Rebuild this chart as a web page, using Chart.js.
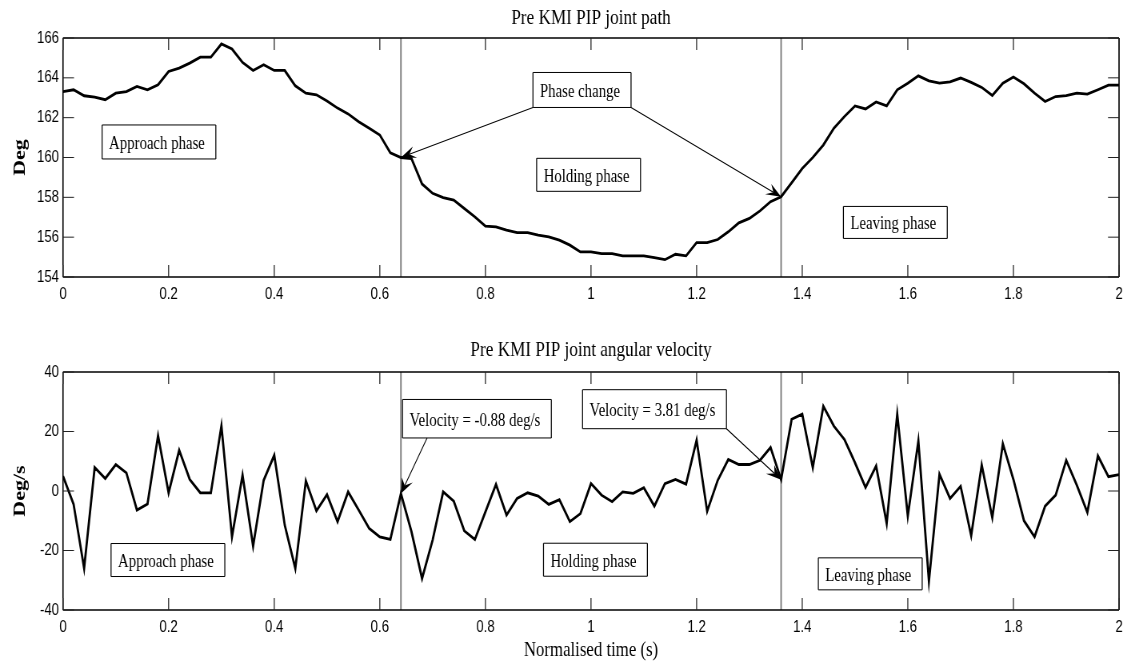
<!DOCTYPE html>
<html>
<head>
<meta charset="utf-8">
<title>Pre KMI PIP joint</title>
<script src="https://cdn.jsdelivr.net/npm/chart.js@4.4.1/dist/chart.umd.min.js"></script>
<style>
  html, body { margin: 0; padding: 0; background: #fff; }
  #wrap { position: relative; width: 1139px; height: 664px; overflow: hidden; }
  #wrap canvas { position: absolute; left: 0; }
</style>
</head>
<body>
<div id="wrap">
  <!-- canvases are drawn wider than shown and squeezed back, which gives the narrow MATLAB-export lettering -->
  <canvas id="pathChart" width="1424" height="310" style="top:0;width:1139px;height:310px"></canvas>
  <canvas id="velChart" width="1424" height="354" style="top:310px;width:1139px;height:354px"></canvas>
</div>
<script>
// normalised time (s)
var time = [
  0.00, 0.02, 0.04, 0.06, 0.08, 0.10, 0.12, 0.14, 0.16, 0.18,
  0.20, 0.22, 0.24, 0.26, 0.28, 0.30, 0.32, 0.34, 0.36, 0.38,
  0.40, 0.42, 0.44, 0.46, 0.48, 0.50, 0.52, 0.54, 0.56, 0.58,
  0.60, 0.62, 0.64, 0.66, 0.68, 0.70, 0.72, 0.74, 0.76, 0.78,
  0.80, 0.82, 0.84, 0.86, 0.88, 0.90, 0.92, 0.94, 0.96, 0.98,
  1.00, 1.02, 1.04, 1.06, 1.08, 1.10, 1.12, 1.14, 1.16, 1.18,
  1.20, 1.22, 1.24, 1.26, 1.28, 1.30, 1.32, 1.34, 1.36, 1.38,
  1.40, 1.42, 1.44, 1.46, 1.48, 1.50, 1.52, 1.54, 1.56, 1.58,
  1.60, 1.62, 1.64, 1.66, 1.68, 1.70, 1.72, 1.74, 1.76, 1.78,
  1.80, 1.82, 1.84, 1.86, 1.88, 1.90, 1.92, 1.94, 1.96, 1.98,
  2.00
];

// PIP joint angle (deg)
var pathDeg = [
  163.31, 163.40, 163.10, 163.03, 162.90, 163.23, 163.31, 163.57, 163.40, 163.65,
  164.32, 164.49, 164.74, 165.04, 165.04, 165.70, 165.45, 164.77, 164.37, 164.66,
  164.37, 164.37, 163.60, 163.23, 163.15, 162.84, 162.48, 162.19, 161.80, 161.47,
  161.13, 160.24, 160.00, 159.95, 158.67, 158.20, 157.99, 157.86, 157.44, 157.02,
  156.55, 156.52, 156.35, 156.23, 156.23, 156.10, 156.01, 155.85, 155.60, 155.26,
  155.26, 155.17, 155.17, 155.06, 155.06, 155.06, 154.97, 154.87, 155.14, 155.06,
  155.73, 155.73, 155.88, 156.27, 156.72, 156.94, 157.32, 157.78, 158.03, 158.73,
  159.45, 160.00, 160.63, 161.47, 162.06, 162.59, 162.44, 162.79, 162.59, 163.40,
  163.73, 164.10, 163.85, 163.73, 163.80, 163.99, 163.77, 163.52, 163.11, 163.73,
  164.04, 163.70, 163.23, 162.81, 163.06, 163.11, 163.23, 163.18, 163.40, 163.63,
  163.63
];

// PIP joint angular velocity (deg/s)
var velDeg = [
  5.0, -4.4, -26.0, 7.9, 4.2, 8.9, 6.1, -6.4, -4.4, 18.6,
  -0.6, 13.7, 3.9, -0.6, -0.6, 21.9, -15.4, 5.3, -18.5, 3.6,
  12.0, -11.5, -26.0, 3.4, -6.7, -1.2, -10.3, -0.3, -6.4, -12.6,
  -15.4, -16.3, -0.88, -13.7, -29.4, -16.5, -0.3, -3.4, -13.4, -16.3,
  -7.0, 2.2, -8.1, -2.5, -0.6, -1.7, -4.5, -2.9, -10.3, -7.6,
  2.5, -1.4, -3.6, -0.3, -0.8, 1.1, -5.1, 2.5, 3.9, 2.3,
  17.1, -6.8, 3.6, 10.6, 8.9, 8.9, 10.3, 14.6, 3.81, 24.1,
  25.8, 7.9, 28.5, 21.8, 17.3, 9.5, 1.2, 8.4, -10.9, 25.8,
  -8.4, 16.8, -30.3, 5.6, -2.5, 1.6, -15.0, 8.7, -8.9, 15.9,
  3.9, -10.0, -15.4, -5.1, -1.4, 10.3, 2.0, -7.2, 11.8, 4.8,
  5.5
];

// phase change instants (s)
var phaseBounds = [0.64, 1.36];

// tick labels
var xTicks = [0, 0.2, 0.4, 0.6, 0.8, 1, 1.2, 1.4, 1.6, 1.8, 2];
var pathTicks = [154, 156, 158, 160, 162, 164, 166];
var velTicks = [-40, -20, 0, 20, 40];

var SX = 1139 / 1424;          // horizontal squeeze of the canvases
var AXIS_W = 63 / SX;          // y axis strip, left of the plot box
var RIGHT_PAD = 1424 - 1119 / SX;
var NOTE_FONT = '18.5px "Liberation Serif", "Times New Roman", serif';

Chart.defaults.color = '#000';
Chart.defaults.font.family = '"Liberation Sans", Arial, sans-serif';
Chart.defaults.font.size = 16.5;

function line(ctx, x0, y0, x1, y1) {
  ctx.beginPath();
  ctx.moveTo(x0, y0);
  ctx.lineTo(x1, y1);
  ctx.stroke();
}

function noteRect(ctx, chart, n) {
  ctx.font = NOTE_FONT;
  var w = ctx.measureText(n.text).width + 18 / SX;
  var h = n.h || 34;
  var left = chart.scales.x.getPixelForValue(n.x);
  var cy = chart.scales.y.getPixelForValue(n.y);
  return { left: left, top: cy - h / 2, w: w, h: h, cy: cy };
}

// arrow with a notched head, built in screen units so the head is not squeezed
function arrow(ctx, x0, y0, x1, y1) {
  var ax = x0 * SX, bx = x1 * SX;
  var dx = bx - ax, dy = y1 - y0, len = Math.hypot(dx, dy);
  var ux = dx / len, uy = dy / len, nx = -uy, ny = ux;
  var L = 15, W = 6;
  ctx.lineWidth = 1.1;
  line(ctx, x0, y0, (bx - ux * L * 0.6) / SX, y1 - uy * L * 0.6);
  var pts = [
    [bx, y1],
    [bx - ux * L + nx * W, y1 - uy * L + ny * W],
    [bx - ux * L * 0.6, y1 - uy * L * 0.6],
    [bx - ux * L - nx * W, y1 - uy * L - ny * W]
  ];
  ctx.beginPath();
  pts.forEach(function (p, i) {
    if (i) ctx.lineTo(p[0] / SX, p[1]); else ctx.moveTo(p[0] / SX, p[1]);
  });
  ctx.closePath();
  ctx.fill();
}

var matlabFrame = {
  id: 'matlabFrame',
  beforeDatasetsDraw: function (chart) {
    var ctx = chart.ctx, a = chart.chartArea, xs = chart.scales.x;
    ctx.save();
    ctx.strokeStyle = '#7c7c7c';
    ctx.lineWidth = 1.5 / SX;
    phaseBounds.forEach(function (t) {
      var px = xs.getPixelForValue(t);
      line(ctx, px, a.top, px, a.bottom);
    });
    ctx.restore();
  },
  afterDatasetsDraw: function (chart, args, opts) {
    var ctx = chart.ctx, a = chart.chartArea;
    var xs = chart.scales.x, ys = chart.scales.y;
    ctx.save();

    // box round the axes
    ctx.strokeStyle = '#000';
    ctx.lineWidth = 1.3;
    line(ctx, a.left, a.top, a.right, a.top);
    line(ctx, a.left, a.bottom, a.right, a.bottom);
    ctx.lineWidth = 1.3 / SX;
    line(ctx, a.left, a.top, a.left, a.bottom);
    line(ctx, a.right, a.top, a.right, a.bottom);

    // inward ticks on all four sides
    ctx.strokeStyle = '#222';
    ctx.lineWidth = 1 / SX;
    xs.ticks.forEach(function (t) {
      var px = xs.getPixelForValue(t.value);
      line(ctx, px, a.bottom, px, a.bottom - 12);
      line(ctx, px, a.top, px, a.top + 12);
    });
    ctx.lineWidth = 1;
    ys.ticks.forEach(function (t) {
      var py = ys.getPixelForValue(t.value);
      line(ctx, a.left, py, a.left + 11 / SX, py);
      line(ctx, a.right, py, a.right - 11 / SX, py);
    });

    // text boxes
    var rects = opts.notes.map(function (n) { return noteRect(ctx, chart, n); });
    ctx.strokeStyle = '#000';
    ctx.fillStyle = '#000';
    opts.notes.forEach(function (n, i) {
      var r = rects[i];
      ctx.lineWidth = 1;
      line(ctx, r.left, r.top, r.left + r.w, r.top);
      line(ctx, r.left, r.top + r.h, r.left + r.w, r.top + r.h);
      ctx.lineWidth = 1 / SX;
      line(ctx, r.left, r.top, r.left, r.top + r.h);
      line(ctx, r.left + r.w, r.top, r.left + r.w, r.top + r.h);
      ctx.font = NOTE_FONT;
      ctx.textBaseline = 'alphabetic';
      ctx.textAlign = 'left';
      ctx.fillText(n.text, r.left + 7 / SX, r.cy + 7);
    });

    // arrows from a box's lower edge to a point of the curve
    var pts = chart.data.datasets[0].data;
    opts.arrows.forEach(function (ar) {
      var r = rects[ar.note];
      var p = pts.find(function (d) { return d.x === ar.to; });
      arrow(ctx, r.left + r.w * ar.at, r.top + r.h,
        xs.getPixelForValue(p.x), ys.getPixelForValue(p.y));
    });
    ctx.restore();
  }
};

function makeChart(id, values, yTicks, cfg) {
  var data = time.map(function (t, i) { return { x: t, y: values[i] }; });
  return new Chart(document.getElementById(id), {
    type: 'line',
    data: {
      datasets: [{
        data: data,
        borderColor: '#000',
        borderWidth: 2.8,
        pointRadius: 0,
        tension: 0,
        fill: false
      }]
    },
    options: {
      responsive: false,
      animation: false,
      devicePixelRatio: 1,
      events: [],
      layout: { padding: { left: 0, right: RIGHT_PAD, top: 0, bottom: 0 } },
      scales: {
        x: {
          type: 'linear',
          min: xTicks[0],
          max: xTicks[xTicks.length - 1],
          afterBuildTicks: function (s) { s.ticks = xTicks.map(function (v) { return { value: v }; }); },
          afterFit: function (s) { s.height = cfg.xHeight; },
          ticks: { padding: 8, maxRotation: 0, autoSkip: false, callback: function (v) { return String(v); } },
          grid: { display: false, drawTicks: false },
          border: { display: false },
          title: {
            display: !!cfg.xTitle,
            text: cfg.xTitle || '',
            font: { family: '"Liberation Serif", "Times New Roman", serif', size: 21 },
            padding: { top: 0, bottom: 1.2 }
          }
        },
        y: {
          min: yTicks[0],
          max: yTicks[yTicks.length - 1],
          afterBuildTicks: function (s) { s.ticks = yTicks.map(function (v) { return { value: v }; }); },
          afterFit: function (s) { s.width = AXIS_W; },
          ticks: { padding: 5 },
          grid: { display: false, drawTicks: false },
          border: { display: false },
          title: {
            display: true,
            text: cfg.yTitle,
            font: { family: '"Liberation Serif", "Times New Roman", serif', size: 22, weight: 'bold' },
            padding: { top: 11.8, bottom: 0 }
          }
        }
      },
      plugins: {
        legend: { display: false },
        tooltip: { enabled: false },
        title: {
          display: true,
          text: cfg.title,
          fullSize: false,
          color: '#000',
          font: { family: '"Liberation Serif", "Times New Roman", serif', size: 21.5, weight: 'normal' },
          padding: cfg.titlePad
        },
        matlabFrame: { notes: cfg.notes, arrows: cfg.arrows }
      }
    },
    plugins: [matlabFrame]
  });
}

function velocityText(t) {
  return 'Velocity = ' + velDeg[time.indexOf(t)].toFixed(2) + ' deg/s';
}

makeChart('pathChart', pathDeg, pathTicks, {
  title: 'Pre KMI PIP joint path',
  titlePad: { top: 5.0, bottom: 7.2 },
  yTitle: 'Deg',
  xHeight: 33,
  notes: [
    { text: 'Approach phase', x: 0.074, y: 160.78 },
    { text: 'Phase change', x: 0.89, y: 163.39, h: 35 },
    { text: 'Holding phase', x: 0.897, y: 159.13, h: 33 },
    { text: 'Leaving phase', x: 1.478, y: 156.74, h: 32 }
  ],
  arrows: [
    { note: 1, at: 0, to: phaseBounds[0] },
    { note: 1, at: 1, to: phaseBounds[1] }
  ]
});

makeChart('velChart', velDeg, velTicks, {
  title: 'Pre KMI PIP joint angular velocity',
  titlePad: { top: 27.3, bottom: 8.9 },
  yTitle: 'Deg/s',
  xTitle: 'Normalised time (s)',
  xHeight: 54,
  notes: [
    { text: 'Approach phase', x: 0.091, y: -23.2, h: 33 },
    { text: velocityText(phaseBounds[0]), x: 0.643, y: 24.3, h: 38.5 },
    { text: velocityText(phaseBounds[1]), x: 0.984, y: 27.5, h: 39 },
    { text: 'Holding phase', x: 0.91, y: -23.1, h: 33 },
    { text: 'Leaving phase', x: 1.4305, y: -27.85, h: 32 }
  ],
  arrows: [
    { note: 1, at: 0.165, to: phaseBounds[0] },
    { note: 2, at: 1, to: phaseBounds[1] }
  ]
});
</script>
</body>
</html>
